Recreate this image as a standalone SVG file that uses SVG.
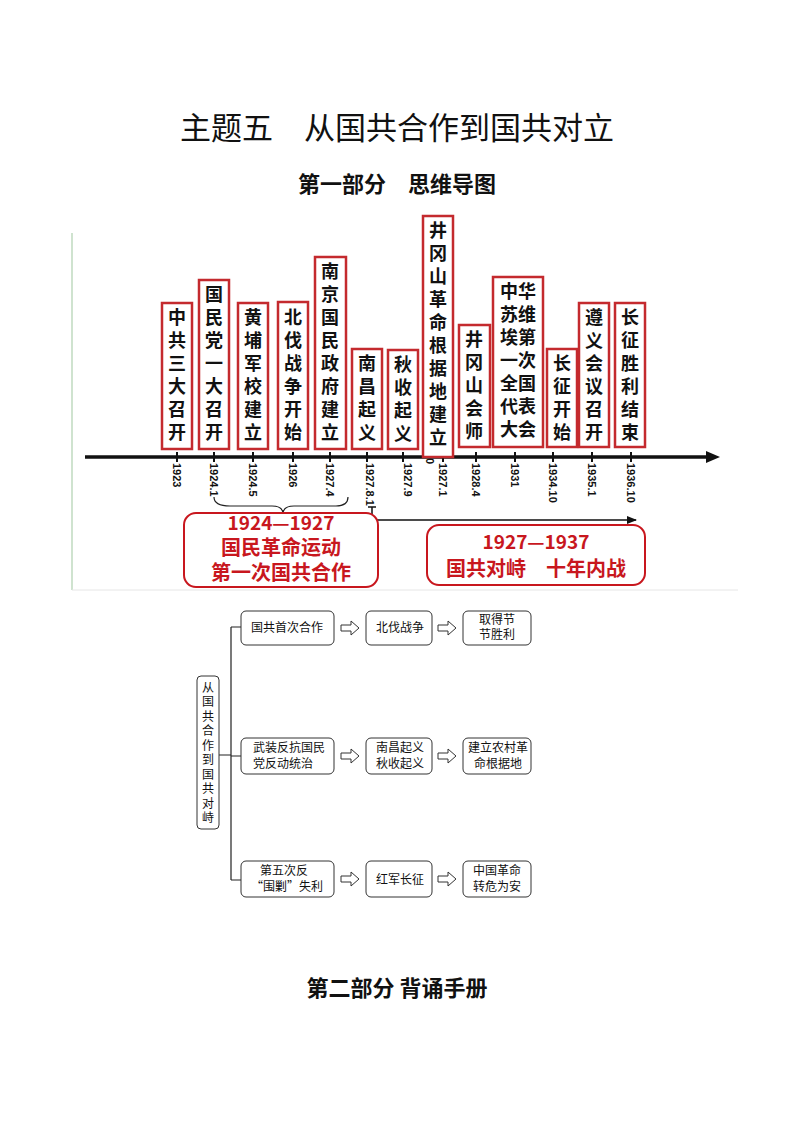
<svg xmlns="http://www.w3.org/2000/svg" width="794" height="1123" viewBox="0 0 794 1123">
<style>
.t{font-family:"Noto Sans CJK SC","Liberation Sans",sans-serif}
.v{font-family:"Noto Sans CJK SC",sans-serif;font-size:18px;font-weight:bold;text-anchor:middle;fill:#111}
.vv{font-family:"Noto Sans CJK SC",sans-serif;font-size:18px;font-weight:bold;fill:#111;writing-mode:vertical-rl;letter-spacing:5px;text-anchor:start}
.rb{fill:#fff;stroke:#c42a2e;stroke-width:2.5}
.yr{font-family:"Liberation Sans",sans-serif;font-size:11px;font-weight:bold;fill:#111}
.red{font-family:"Noto Sans CJK SC",sans-serif;font-weight:bold;fill:#c8171e;text-anchor:middle}
.mb{fill:#fff;stroke:#333;stroke-width:1}
.mt{font-family:"Noto Sans CJK SC",sans-serif;font-size:12px;fill:#111;text-anchor:middle}
.ha{fill:#fff;stroke:#333;stroke-width:1}
.ln{stroke:#222;stroke-width:1.2;fill:none}
</style>
<defs>
<marker id="ar" markerWidth="10" markerHeight="8" refX="9" refY="4" orient="auto" markerUnits="userSpaceOnUse"><path d="M0,0 L10,4 L0,8 Z" fill="#111"/></marker>
</defs>
<rect width="794" height="1123" fill="#fff"/>
<text class="t" x="397" y="139" font-size="31" text-anchor="middle" fill="#111">主题五　从国共合作到国共对立</text>
<text class="t" x="397" y="192" font-size="22" font-weight="bold" text-anchor="middle" fill="#111">第一部分　思维导图</text>
<line x1="72" y1="233" x2="72" y2="590" stroke="#cfe3cf" stroke-width="2"/>
<line x1="72" y1="590" x2="738" y2="590" stroke="#e6e6e6" stroke-width="1"/>

<g id="connectors">
<line x1="85" y1="457" x2="708" y2="457" stroke="#111" stroke-width="3.5"/>
<path d="M706,451 L720,457 L706,463 Z" fill="#111"/>
<g stroke="#111" stroke-width="2">
<line x1="177" y1="452" x2="177" y2="462"/><line x1="214" y1="452" x2="214" y2="462"/><line x1="253" y1="452" x2="253" y2="462"/><line x1="293" y1="452" x2="293" y2="462"/><line x1="330" y1="452" x2="330" y2="462"/><line x1="367" y1="452" x2="367" y2="462"/><line x1="403" y1="452" x2="403" y2="462"/><line x1="443" y1="452" x2="443" y2="462"/><line x1="476" y1="452" x2="476" y2="462"/><line x1="515" y1="452" x2="515" y2="462"/><line x1="553" y1="452" x2="553" y2="462"/><line x1="592" y1="452" x2="592" y2="462"/><line x1="631" y1="452" x2="631" y2="462"/>
</g>
<path d="M214,497 Q214,506 230,506 L272,506 Q283,506 283,514 Q283,506 294,506 L336,506 Q348,506 348,497" class="ln" stroke-width="2"/>
<path d="M372,507 L372,520 L636,520" stroke="#111" stroke-width="1.5" fill="none" marker-end="url(#ar)"/>
<line x1="368" y1="507" x2="376" y2="507" stroke="#111" stroke-width="1.5"/>
</g>

<g class="yr">
<text transform="translate(173,463) rotate(90)">1923</text>
<text transform="translate(210,463) rotate(90)">1924.1</text>
<text transform="translate(249,463) rotate(90)">1924.5</text>
<text transform="translate(289,463) rotate(90)">1926</text>
<text transform="translate(326,463) rotate(90)">1927.4</text>
<text transform="translate(366,463) rotate(90)">1927.8.1</text>
<text transform="translate(404,463) rotate(90)">1927.9</text>
<text transform="translate(426,458) rotate(90)">0</text>
<text transform="translate(439,463) rotate(90)">1927.1</text>
<text transform="translate(472,463) rotate(90)">1928.4</text>
<text transform="translate(511,463) rotate(90)">1931</text>
<text transform="translate(549,463) rotate(90)">1934.10</text>
<text transform="translate(588,463) rotate(90)">1935.1</text>
<text transform="translate(627,463) rotate(90)">1936.10</text>
</g>

<g id="e1"><rect class="rb" x="162" y="303" width="30" height="146"/><text class="vv" x="177" y="308">中共三大召开</text></g>
<g id="e2"><rect class="rb" x="199" y="280" width="30" height="169"/><text class="vv" x="214" y="285">国民党一大召开</text></g>
<g id="e3"><rect class="rb" x="238" y="303" width="30" height="146"/><text class="vv" x="253" y="308">黄埔军校建立</text></g>
<g id="e4"><rect class="rb" x="278" y="302" width="30" height="147"/><text class="vv" x="293" y="308">北伐战争开始</text></g>
<g id="e5"><rect class="rb" x="315" y="257" width="31" height="192"/><text class="vv" x="330" y="262">南京国民政府建立</text></g>
<g id="e6"><rect class="rb" x="352" y="349" width="30" height="100"/><text class="vv" x="367" y="354">南昌起义</text></g>
<g id="e7"><rect class="rb" x="388" y="350" width="30" height="99"/><text class="vv" x="403" y="355">秋收起义</text></g>
<g id="e8"><rect class="rb" x="423" y="216" width="30" height="241"/><text class="vv" x="438" y="221">井冈山革命根据地建立</text></g>
<g id="e9"><rect class="rb" x="459" y="325" width="31" height="122"/><text class="vv" x="474" y="330">井冈山会师</text></g>
<g id="e10"><rect class="rb" x="493" y="277" width="50" height="170"/><text class="v" x="518" y="298"><tspan x="518">中华</tspan><tspan x="518" dy="23">苏维</tspan><tspan x="518" dy="23">埃第</tspan><tspan x="518" dy="23">一次</tspan><tspan x="518" dy="23">全国</tspan><tspan x="518" dy="23">代表</tspan><tspan x="518" dy="23">大会</tspan></text></g>
<g id="e11"><rect class="rb" x="547" y="349" width="30" height="98"/><text class="vv" x="562" y="354">长征开始</text></g>
<g id="e12"><rect class="rb" x="579" y="303" width="30" height="144"/><text class="vv" x="594" y="308">遵义会议召开</text></g>
<g id="e13"><rect class="rb" x="615" y="303" width="30" height="144"/><text class="vv" x="630" y="308">长征胜利结束</text></g>

<g id="p1"><rect x="184" y="513" width="194" height="74" rx="12" fill="#fff" stroke="#c8171e" stroke-width="2"/>
<text class="red" x="281" y="530" font-size="19">1924—1927</text>
<text class="red" x="281" y="555" font-size="20">国民革命运动</text>
<text class="red" x="281" y="580" font-size="20">第一次国共合作</text></g>
<g id="p2"><rect x="427" y="525" width="218" height="60" rx="12" fill="#fff" stroke="#c8171e" stroke-width="2"/>
<text class="red" x="536" y="549" font-size="19">1927—1937</text>
<text class="red" x="536" y="576" font-size="20">国共对峙　十年内战</text></g>

<g id="mm-connectors">
<path class="ln" d="M219,755 L231,755 M231,627 L231,880 M231,627 L241,627 M231,756 L241,756 M231,880 L241,880" stroke-width="1"/>
<polygon class="ha" points="341,625 351,625 351,621 359,628 351,635 351,631 341,631"/>
<polygon class="ha" points="438,625 448,625 448,621 456,628 448,635 448,631 438,631"/>
<polygon class="ha" points="341,753 351,753 351,749 359,756 351,763 351,759 341,759"/>
<polygon class="ha" points="438,753 448,753 448,749 456,756 448,763 448,759 438,759"/>
<polygon class="ha" points="341,876 351,876 351,872 359,879 351,886 351,882 341,882"/>
<polygon class="ha" points="438,876 448,876 448,872 456,879 448,886 448,882 438,882"/>
</g>
<g id="root"><rect class="mb" x="197" y="676" width="22" height="153" rx="4"/>
<text class="mt" x="208" y="681" writing-mode="vertical-rl" style="text-anchor:start" letter-spacing="2.5">从国共合作到国共对峙</text></g>
<g id="a1"><rect class="mb" x="241" y="611" width="93" height="34" rx="5"/><text class="mt" x="287" y="632">国共首次合作</text></g>
<g id="a2"><rect class="mb" x="366" y="611" width="66" height="34" rx="5"/><text class="mt" x="400" y="632">北伐战争</text></g>
<g id="a3"><rect class="mb" x="463" y="611" width="68" height="34" rx="5"/><text class="mt" x="497" y="624">取得节</text><text class="mt" x="497" y="639">节胜利</text></g>
<g id="b1"><rect class="mb" x="241" y="738" width="93" height="36" rx="5"/><text class="mt" x="289" y="752">武装反抗国民</text><text class="mt" x="283" y="768">党反动统治</text></g>
<g id="b2"><rect class="mb" x="366" y="738" width="66" height="36" rx="5"/><text class="mt" x="400" y="752">南昌起义</text><text class="mt" x="400" y="768">秋收起义</text></g>
<g id="b3"><rect class="mb" x="463" y="738" width="68" height="36" rx="5"/><text class="mt" x="498" y="752">建立农村革</text><text class="mt" x="498" y="768">命根据地</text></g>
<g id="c1"><rect class="mb" x="241" y="861" width="93" height="36" rx="5"/><text class="mt" x="284" y="875">第五次反</text><text class="mt" x="287" y="891">“围剿”失利</text></g>
<g id="c2"><rect class="mb" x="366" y="861" width="66" height="36" rx="5"/><text class="mt" x="400" y="884">红军长征</text></g>
<g id="c3"><rect class="mb" x="463" y="861" width="68" height="36" rx="5"/><text class="mt" x="497" y="875">中国革命</text><text class="mt" x="497" y="891">转危为安</text></g>

<text class="t" x="397" y="996" font-size="22" font-weight="bold" text-anchor="middle" fill="#111">第二部分 背诵手册</text>
</svg>
